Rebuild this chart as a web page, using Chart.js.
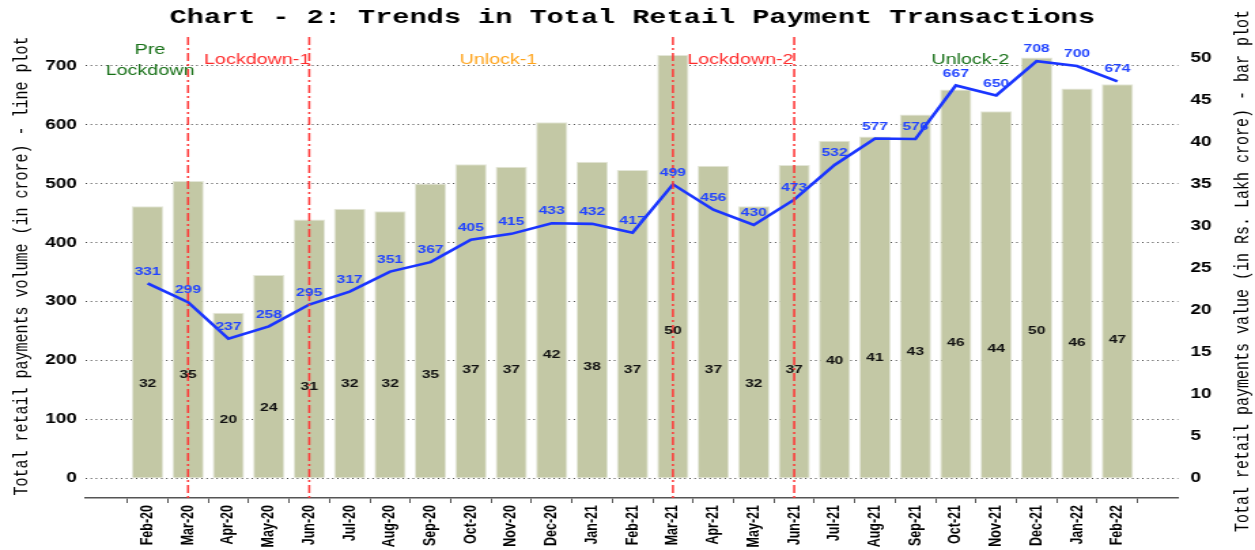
<!DOCTYPE html>
<html>
<head>
<meta charset="utf-8">
<title>Chart - 2: Trends in Total Retail Payment Transactions</title>
<script src="https://cdn.jsdelivr.net/npm/chart.js@4.4.1/dist/chart.umd.min.js"></script>
<style>
  html, body { margin: 0; padding: 0; background: #ffffff; overflow: hidden; }
  /* the source figure is horizontally stretched; reproduce by scaling the canvas box */
  #wrap { position: absolute; left: 0; top: 0; width: 923px; height: 550px;
          transform: scaleX(1.35969); transform-origin: 0 0; }
</style>
</head>
<body>
<div id="wrap"><canvas id="c"></canvas></div>
<script>
// ---------------- data ----------------
const months = ['Feb-20','Mar-20','Apr-20','May-20','Jun-20','Jul-20','Aug-20','Sep-20','Oct-20','Nov-20','Dec-20','Jan-21','Feb-21',
                'Mar-21','Apr-21','May-21','Jun-21','Jul-21','Aug-21','Sep-21','Oct-21','Nov-21','Dec-21','Jan-22','Feb-22'];
// line plot: total retail payments volume (in crore)
const volumeCrore = [331, 299, 237, 258, 295, 317, 351, 367, 405, 415, 433, 432, 417,
                     499, 456, 430, 473, 532, 577, 576, 667, 650, 708, 700, 674];
// bar plot: total retail payments value (in Rs. Lakh crore)
const valueLakhCrore = [32.4, 35.4, 19.7, 24.2, 30.8, 32.1, 31.8, 35.1, 37.4, 37.1, 42.4, 37.7, 36.7,
                        50.4, 37.2, 32.4, 37.3, 40.2, 40.7, 43.3, 46.3, 43.7, 50.1, 46.4, 46.9];
const leftTicks  = [0, 100, 200, 300, 400, 500, 600, 700];
const rightTicks = [0, 5, 10, 15, 20, 25, 30, 35, 40, 45, 50];
const phaseBoundaries = ['Mar-20', 'Jun-20', 'Mar-21', 'Jun-21'];

const titleText = 'Chart - 2: Trends in Total Retail Payment Transactions';
const leftTitle = 'Total retail payments volume (in crore) - line plot';
const rightTitle = 'Total retail payments value (in Rs. Lakh crore) - bar plot';

// phase annotations (x in category units, y in volume-axis units)
const phaseNotes = [
  { text: 'Pre',        x: 0.06,  y: 727, color: '#177017' },
  { text: 'Lockdown',   x: 0.06,  y: 691, color: '#177017' },
  { text: 'Lockdown-1', x: 2.71,  y: 710, color: '#ff2b2b' },
  { text: 'Unlock-1',   x: 8.68,  y: 710, color: '#ffa31a' },
  { text: 'Lockdown-2', x: 14.67, y: 710, color: '#ff2b2b' },
  { text: 'Unlock-2',   x: 20.36, y: 710, color: '#177017' }
];

const SANS = '"Liberation Sans", Arial, Helvetica, sans-serif';
const MONO = '"Liberation Mono", "Courier New", Courier, monospace';

const overlay = {
  id: 'overlay',
  afterDraw(chart) {
    const { ctx, chartArea: ca, scales } = chart;
    const x = scales.x, yL = scales.yL;
    ctx.save();

    // phase boundary lines (dash-dot red)
    ctx.strokeStyle = '#ff3535';
    ctx.lineWidth = 1.5;
    ctx.setLineDash([8, 3, 2, 3]);
    phaseBoundaries.forEach(m => {
      const px = x.getPixelForValue(months.indexOf(m));
      ctx.beginPath();
      ctx.moveTo(px, ca.top);
      ctx.lineTo(px, ca.bottom);
      ctx.stroke();
    });
    ctx.setLineDash([]);

    ctx.textAlign = 'center';
    ctx.textBaseline = 'middle';

    // bar value labels (placed at 5x value on the volume axis, as in the source)
    ctx.font = 'bold 11.5px ' + SANS;
    ctx.fillStyle = '#111111';
    valueLakhCrore.forEach((v, i) => {
      const lbl = Math.round(v);
      ctx.fillText(String(lbl), x.getPixelForValue(i), yL.getPixelForValue(lbl * 5));
    });

    // line value labels
    ctx.fillStyle = '#2244ff';
    volumeCrore.forEach((v, i) => {
      ctx.fillText(String(v), x.getPixelForValue(i), yL.getPixelForValue(v) - 12);
    });

    // phase annotations
    ctx.font = '14.5px ' + SANS;
    phaseNotes.forEach(n => {
      ctx.fillStyle = n.color;
      ctx.fillText(n.text, x.getPixelForValue(n.x), yL.getPixelForValue(n.y));
    });

    // title
    ctx.fillStyle = '#000000';
    ctx.font = 'bold 21px ' + MONO;
    ctx.fillText(titleText, 465, 18);

    // axis titles (both read bottom-to-top)
    ctx.font = '15px ' + MONO;
    ctx.save();
    ctx.translate(16, 266);
    ctx.rotate(-Math.PI / 2);
    ctx.fillText(leftTitle, 0, 0);
    ctx.restore();
    ctx.save();
    ctx.translate(914, 271);
    ctx.rotate(-Math.PI / 2);
    ctx.fillText(rightTitle, 0, 0);
    ctx.restore();

    ctx.restore();
  }
};

new Chart(document.getElementById('c'), {
  data: {
    datasets: [
      {
        type: 'line',
        label: 'Total retail payments volume (in crore)',
        data: months.map((m, i) => ({ x: i, y: volumeCrore[i] })),
        xAxisID: 'x', yAxisID: 'yL',
        borderColor: '#1a35ff', borderWidth: 2.6,
        pointRadius: 0, tension: 0, fill: false,
        order: 0
      },
      {
        type: 'bar',
        label: 'Total retail payments value (in Rs. Lakh crore)',
        data: months.map((m, i) => ({ x: i, y: valueLakhCrore[i] })),
        xAxisID: 'x', yAxisID: 'yR',
        backgroundColor: '#c3c8a5',
        borderColor: '#e3e6d8', borderWidth: 1,
        barPercentage: 1, categoryPercentage: 0.78,
        order: 1
      }
    ]
  },
  options: {
    responsive: true,
    maintainAspectRatio: false,
    animation: false,
    events: [],
    layout: { padding: { top: 37, left: 0, right: 0, bottom: 0 } },
    plugins: { legend: { display: false }, tooltip: { enabled: false }, title: { display: false } },
    scales: {
      x: {
        type: 'linear', position: 'bottom', min: -1.55, max: 25.5, offset: false,
        afterBuildTicks: s => { s.ticks = months.map((m, i) => ({ value: i })); },
        afterFit: s => { s.height = 52; },
        ticks: {
          autoSkip: false, maxRotation: 90, minRotation: 90, padding: 2, color: '#000000',
          font: { family: SANS, size: 12.5, weight: 'bold' },
          callback: v => months[v]
        },
        grid: { display: true, drawOnChartArea: false, drawTicks: true, tickLength: 5, color: '#555555', lineWidth: 1 },
        border: { display: true, color: '#555555', width: 1.5 }
      },
      yL: {
        type: 'linear', position: 'left', min: -33.4, max: 749.2, z: 1,
        afterBuildTicks: s => { s.ticks = leftTicks.map(v => ({ value: v })); },
        afterFit: s => { s.width = 62.5; },
        ticks: { padding: 6, color: '#000000', font: { family: SANS, size: 14, weight: 'bold' } },
        grid: { drawTicks: false, color: '#444444', lineWidth: 1 },
        border: { display: false, dash: [1, 2.7] }
      },
      yR: {
        type: 'linear', position: 'right', min: -2.35, max: 52.54,
        afterBuildTicks: s => { s.ticks = rightTicks.map(v => ({ value: v })); },
        afterFit: s => { s.width = 56.6; },
        ticks: { padding: 9, color: '#000000', font: { family: SANS, size: 14, weight: 'bold' } },
        grid: { drawOnChartArea: false, drawTicks: false },
        border: { display: false }
      }
    }
  },
  plugins: [overlay]
});
</script>
</body>
</html>
